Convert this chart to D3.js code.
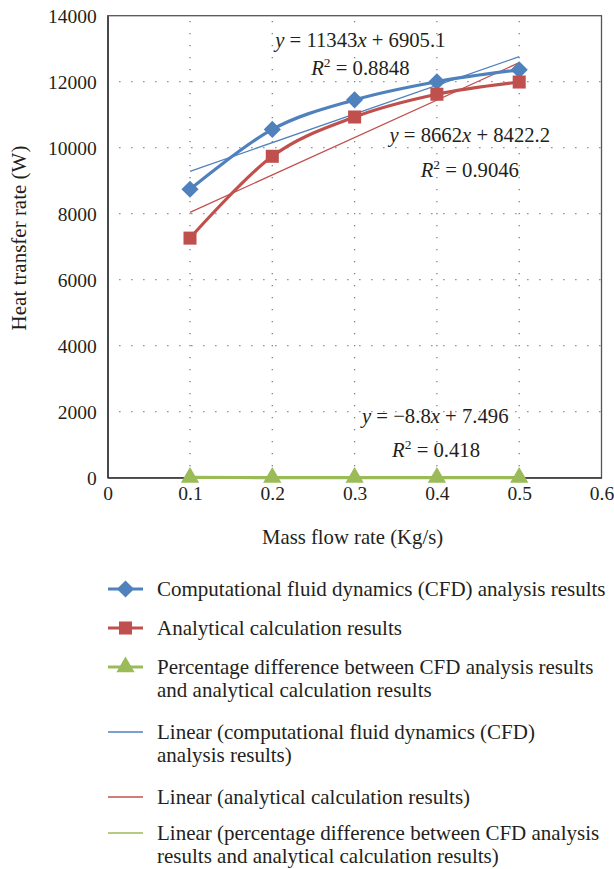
<!DOCTYPE html>
<html>
<head>
<meta charset="utf-8">
<script src="https://cdn.jsdelivr.net/npm/d3@7"></script>
<style>
  body { margin: 0; background: #fff; }
  svg { display: block; }
  text { font-family: "Liberation Serif", "DejaVu Serif", serif; fill: #231f20; }
</style>
</head>
<body>
<div id="root"></div>
<script>
// values
const massFlow = [0.1, 0.2, 0.3, 0.4, 0.5];
const cfdResults = [8740, 10555, 11450, 12000, 12360];
const analyticalResults = [7260, 9740, 10930, 11620, 11990];
const percentDiff = [8.0, 4.0, 4.3, 4.7, 3.3];

const xTicks = [0, 0.1, 0.2, 0.3, 0.4, 0.5, 0.6];
const yTicks = [0, 2000, 4000, 6000, 8000, 10000, 12000, 14000];

const fitLabels = [
	{ eq: ["11343", "6905.1"], r2: "0.8848", at: [0.307, 13050], r2At: [0.307, 12200] },
	{ eq: ["8662", "8422.2"], r2: "0.9046", at: [0.44, 10170], r2At: [0.44, 9110] },
	{ eq: ["\u22128.8", "7.496"], r2: "0.418", at: [0.398, 1660], r2At: [0.399, 630] }
];

const legendItems = [
	{ lines: ["Computational fluid dynamics (CFD) analysis results"], color: "#4f81bd", marker: "diamond", thick: true },
	{ lines: ["Analytical calculation results"], color: "#c0504d", marker: "square", thick: true },
	{ lines: ["Percentage difference between CFD analysis results", "and analytical calculation results"], color: "#9bbb59", marker: "triangle", thick: true },
	{ lines: ["Linear (computational fluid dynamics (CFD)", "analysis results)"], color: "#4f81bd", marker: null, thick: false },
	{ lines: ["Linear (analytical calculation results)"], color: "#c0504d", marker: null, thick: false },
	{ lines: ["Linear (percentage difference between CFD analysis", "results and analytical calculation results)"], color: "#9bbb59", marker: null, thick: false }
];

const series = [
	{ values: cfdResults, color: "#4f81bd", marker: "diamond" },
	{ values: analyticalResults, color: "#c0504d", marker: "square" },
	{ values: percentDiff, color: "#9bbb59", marker: "triangle" }
];

const width = 614, height = 869;
const plot = { left: 107.7, right: 601.5, top: 15.7, bottom: 477.7 };

const x = d3.scaleLinear().domain([0, 0.6]).range([plot.left, plot.right]);
const y = d3.scaleLinear().domain([0, 14000]).range([plot.bottom, plot.top]);

const svg = d3.select("#root")
	.append("svg")
		.attr("width", width)
		.attr("height", height);

const symbolFor = (name, size) => {
	if (name === "diamond") return d3.symbol().type(d3.symbolDiamond2).size(size * 1.1)();
	if (name === "square") return d3.symbol().type(d3.symbolSquare).size(size)();
	return d3.symbol().type(d3.symbolTriangle).size(size * 0.85)();
};

// least squares fit, like the spreadsheet trendline
const linearFit = (xs, ys) => {
	const mx = d3.mean(xs), my = d3.mean(ys);
	const sxy = d3.sum(xs, (v, i) => (v - mx) * (ys[i] - my));
	const sxx = d3.sum(xs, v => (v - mx) * (v - mx));
	const slope = sxy / sxx;
	return { slope, intercept: my - slope * mx };
};

// grid
const grid = svg.append("g").attr("class", "grid");

grid.selectAll(".hgrid")
	.data(yTicks.filter(d => d > 0 && d < 14000))
	.enter()
	.append("line")
		.attr("x1", plot.left)
		.attr("x2", plot.right)
		.attr("y1", d => y(d))
		.attr("y2", d => y(d))
		.attr("stroke", "#7f7f7f")
		.attr("stroke-width", 1.3)
		.attr("stroke-dasharray", "1.3,10.7")
		.attr("stroke-dashoffset", -11.5);

grid.selectAll(".vgrid")
	.data(xTicks.filter(d => d > 0 && d < 0.6))
	.enter()
	.append("line")
		.attr("x1", d => x(d))
		.attr("x2", d => x(d))
		.attr("y1", plot.bottom)
		.attr("y2", plot.top)
		.attr("stroke", "#7f7f7f")
		.attr("stroke-width", 1.3)
		.attr("stroke-dasharray", "1.3,10.7")
		.attr("stroke-dashoffset", -11.5);

// frame
svg.append("rect")
	.attr("x", plot.left)
	.attr("y", plot.top)
	.attr("width", plot.right - plot.left)
	.attr("height", plot.bottom - plot.top)
	.attr("fill", "none")
	.attr("stroke", "#555")
	.attr("stroke-width", 1.3);

// axes
const xAxis = svg.append("g")
	.attr("transform", `translate(0, ${plot.bottom})`)
	.call(d3.axisBottom(x).tickValues(xTicks).tickSize(0).tickPadding(10).tickFormat(d => d === 0 ? "0" : d3.format(".1f")(d)));

const yAxis = svg.append("g")
	.attr("transform", `translate(${plot.left}, 0)`)
	.call(d3.axisLeft(y).tickValues(yTicks).tickSize(0).tickPadding(11).tickFormat(d3.format("d")));

[xAxis, yAxis].forEach(a => {
	a.select(".domain").attr("stroke", "#333").attr("stroke-width", 1.3);
	a.selectAll("text")
		.attr("fill", "#231f20")
		.style("font-family", "'Liberation Serif', serif")
		.style("font-size", "19.5px");
});
xAxis.selectAll("text").attr("dy", "0.71em").attr("y", 8);
yAxis.selectAll("text").attr("dy", "0.34em");

svg.append("text")
	.attr("x", x(0.3) - 2)
	.attr("y", 544)
	.attr("text-anchor", "middle")
	.style("font-size", "20.7px")
	.text("Mass flow rate (Kg/s)");

svg.append("text")
	.attr("transform", `translate(26, 238) rotate(-90)`)
	.attr("text-anchor", "middle")
	.style("font-size", "21px")
	.text("Heat transfer rate (W)");

// trendlines
const trendG = svg.append("g");
series.forEach(s => {
	const fit = linearFit(massFlow, s.values);
	const x0 = massFlow[0], x1 = massFlow[massFlow.length - 1];
	trendG.append("line")
		.attr("x1", x(x0))
		.attr("y1", y(fit.slope * x0 + fit.intercept))
		.attr("x2", x(x1))
		.attr("y2", y(fit.slope * x1 + fit.intercept))
		.attr("stroke", s.color)
		.attr("stroke-width", 1.3);
});

// series lines
const line = d3.line()
	.x((d, i) => x(massFlow[i]))
	.y(d => y(d))
	.curve(d3.curveCatmullRom.alpha(0));

series.forEach(s => {
	svg.append("path")
		.datum(s.values)
		.attr("d", line)
		.attr("fill", "none")
		.attr("stroke", s.color)
		.attr("stroke-width", 3.2);
});

series.forEach(s => {
	svg.append("g")
		.selectAll("path")
		.data(s.values)
		.enter()
		.append("path")
			.attr("transform", (d, i) => `translate(${x(massFlow[i])}, ${y(d)})`)
			.attr("d", symbolFor(s.marker, 170))
			.attr("fill", s.color);
});

// fit labels
const eqG = svg.append("g").style("font-size", "20.7px");
fitLabels.forEach(f => {
	const t = eqG.append("text")
		.attr("x", x(f.at[0]))
		.attr("y", y(f.at[1]))
		.attr("text-anchor", "middle");
	t.append("tspan").style("font-style", "italic").text("y");
	t.append("tspan").text(` = ${f.eq[0]}`);
	t.append("tspan").style("font-style", "italic").text("x");
	t.append("tspan").text(` + ${f.eq[1]}`);

	const r = eqG.append("text")
		.attr("x", x(f.r2At[0]))
		.attr("y", y(f.r2At[1]))
		.attr("text-anchor", "middle");
	r.append("tspan").style("font-style", "italic").text("R");
	r.append("tspan").attr("dy", -8).style("font-size", "13.5px").text("2");
	r.append("tspan").attr("dy", 8).text(` = ${f.r2}`);
});

// legend
const legend = svg.append("g").attr("transform", "translate(108, 589)");
const rowTops = [0, 39, 78, 143, 208, 244];
legendItems.forEach((item, i) => {
	const g = legend.append("g").attr("transform", `translate(0, ${rowTops[i]})`);
	g.append("line")
		.attr("x1", 0)
		.attr("x2", 35)
		.attr("stroke", item.color)
		.attr("stroke-width", item.thick ? 3.2 : 1.5);
	if (item.marker) {
		g.append("path")
			.attr("transform", "translate(17.5, 0)")
			.attr("d", symbolFor(item.marker, 170))
			.attr("fill", item.color);
	}
	const t = g.append("text")
		.attr("x", 49)
		.attr("y", 0)
		.style("font-size", "21px");
	item.lines.forEach((l, j) => {
		t.append("tspan")
			.attr("x", 49)
			.attr("dy", j === 0 ? "0.33em" : 23)
			.text(l);
	});
});
</script>
</body>
</html>
